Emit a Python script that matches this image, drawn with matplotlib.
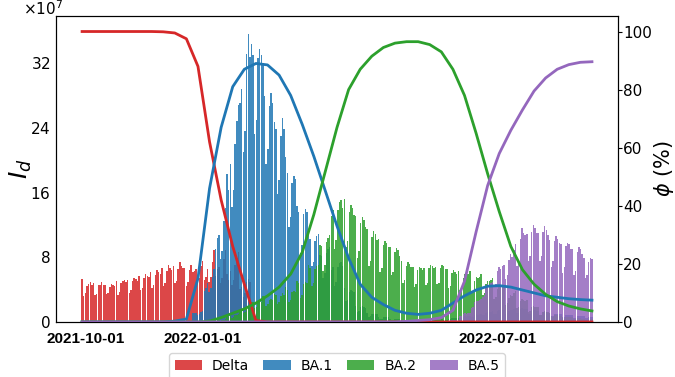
import numpy as np
import matplotlib.pyplot as plt

variants = ['Delta', 'BA.1', 'BA.2', 'BA.5']
colors = ['#d62728', '#1f77b4', '#2ca02c', '#9467bd']

# daily new infections (x1e7), one row per week
daily_cases = [
    5.3, 3.2, 3.6, 4.4, 4.7, 4.9, 4.6,
    4.8, 3.3, 3.5, 4.5, 4.6, 4.9, 4.6,
    4.5, 3.4, 3.6, 4.3, 4.7, 4.6, 4.4,
    5.1, 3.3, 3.7, 4.8, 5.0, 5.2, 4.9,
    5.2, 3.6, 3.9, 5.0, 5.4, 5.3, 5.1,
    5.6, 3.9, 4.2, 5.4, 5.9, 5.7, 5.5,
    6.1, 4.2, 4.5, 5.8, 6.4, 6.2, 5.9,
    6.6, 4.4, 4.8, 6.3, 7.0, 6.7, 6.4,
    6.9, 4.8, 5.1, 6.6, 7.4, 7.1, 6.8,
    6.8, 4.6, 5.0, 6.5, 7.2, 7.0, 7.1,
    7.4, 5.6, 6.2, 7.8, 8.6, 8.3, 9.0,
    10.5, 8.0, 9.0, 12.0, 14.2, 13.5, 15.5,
    16.0, 11.5, 13.0, 18.5, 21.0, 22.5, 20.0,
    24.0, 17.5, 20.0, 27.0, 30.5, 33.0, 31.0,
    33.0, 24.0, 27.0, 38.0, 40.8, 37.5, 38.5,
    37.0, 26.0, 28.0, 36.5, 37.8, 37.0, 36.0,
    31.5, 22.0, 24.0, 30.0, 31.8, 30.5, 29.0,
    28.0, 18.5, 20.5, 27.0, 29.5, 28.0, 26.0,
    23.5, 15.0, 16.5, 22.0, 23.0, 22.5, 21.0,
    20.0, 12.5, 14.0, 19.5, 20.5, 20.0, 19.0,
    18.0, 12.0, 13.0, 17.5, 18.5, 19.0, 18.2,
    18.0, 12.0, 13.5, 19.0, 20.0, 20.5, 19.5,
    20.5, 13.5, 15.0, 20.5, 22.0, 22.5, 21.0,
    19.0, 11.5, 12.5, 17.0, 18.0, 17.5, 16.5,
    15.0, 9.0, 10.0, 14.0, 14.8, 14.5, 13.5,
    12.5, 7.5, 8.2, 11.5, 12.2, 11.8, 11.0,
    10.8, 6.5, 7.0, 10.0, 10.6, 10.3, 9.8,
    9.6, 6.0, 6.4, 9.0, 9.5, 9.2, 8.4,
    7.8, 5.0, 5.3, 7.2, 7.6, 7.4, 7.0,
    7.0, 4.5, 4.8, 6.6, 7.0, 6.9, 6.6,
    7.0, 4.8, 5.0, 6.9, 7.3, 7.2, 6.9,
    7.3, 5.0, 5.2, 7.1, 7.6, 7.4, 7.0,
    7.0, 4.8, 5.1, 6.9, 7.3, 7.1, 6.8,
    7.2, 5.0, 5.3, 7.0, 7.6, 7.4, 7.5,
    8.0, 5.5, 5.9, 7.8, 8.5, 8.3, 8.6,
    9.0, 6.5, 7.0, 9.2, 10.0, 9.8, 10.2,
    10.6, 7.5, 8.0, 10.8, 11.6, 11.3, 11.8,
    12.0, 8.0, 8.8, 11.5, 12.6, 12.2, 13.5,
    14.5, 9.5, 10.5, 14.0, 15.8, 15.0, 14.6,
    14.8, 9.5, 10.2, 14.0, 15.0, 14.5, 13.8,
    13.8, 9.0, 9.6, 13.2, 14.0, 13.5, 12.8,
    12.0, 8.0, 8.6, 11.5, 12.2, 11.8, 11.2,
    11.0, 7.0, 7.6, 10.5, 11.0, 10.8, 10.2,
    10.2, 6.5, 7.0, 9.6, 10.3, 10.0, 9.4,
    8.8, 6.0, 6.4, 8.2, 8.8, 8.6,
]

# weekly variant shares (%)
delta_share = [100, 100, 100, 100, 100, 100, 100, 99.9, 99.5, 97.5, 88, 62, 42, 26, 13, 0.5,
               0, 0, 0, 0, 0, 0, 0, 0, 0, 0, 0, 0, 0, 0, 0, 0, 0, 0, 0, 0, 0, 0, 0, 0, 0, 0, 0, 0, 0]
ba1_share = [0, 0, 0, 0, 0, 0, 0, 0, 0.3, 1, 15, 46, 67, 81, 87, 89, 88.5, 85, 78, 68, 57, 45, 33,
             22, 13, 8.5, 6, 4, 3, 2.6, 3, 4, 6.5, 9, 11, 12.3, 12.5, 12, 11, 10, 9, 8.5, 8, 7.7, 7.5]
ba2_share = [0, 0, 0, 0, 0, 0, 0, 0, 0, 0, 0, 0.3, 1.5, 3, 4.5, 6.5, 9, 12, 16.5, 24, 37, 52, 67,
             80, 87, 91.5, 94.5, 96, 96.5, 96.5, 95.5, 93, 87, 78, 65, 51, 38, 26, 18, 13, 9.5, 7,
             5.5, 4.5, 3.8]
ba5_share = [0, 0, 0, 0, 0, 0, 0, 0, 0, 0, 0, 0, 0, 0, 0, 0, 0, 0, 0, 0, 0, 0, 0, 0, 0, 0, 0, 0,
             0.2, 0.5, 0.8, 1.5, 4, 14, 31, 47, 58, 66, 73, 79.5, 84, 87, 88.6, 89.4, 89.6]
shares = [delta_share, ba1_share, ba2_share, ba5_share]

tick_days = [2, 74, 255]
tick_labels = ['2021-10-01', '2022-01-01', '2022-07-01']

cases = np.array(daily_cases) * 1e7
days = np.arange(len(cases))
share_days = np.linspace(0, days[-1], len(delta_share))
# share of the week each day belongs to
week_of_day = np.rint(days * (len(share_days) - 1) / days[-1]).astype(int)

fig, ax = plt.subplots(figsize=(6.75, 3.77), dpi=100)
fig.subplots_adjust(left=0.083, right=0.9156, bottom=0.146, top=0.958)
ax2 = ax.twinx()

bars = []
for name, share, c in zip(variants, shares, colors):
    share = np.array(share)
    b = ax.bar(days, cases * share[week_of_day] / 100, width=0.9, color=c, alpha=0.85, label=name)
    bars.append(b)
    ax2.plot(share_days, share, color=c, lw=2)

ax.set_xlim(-16, 329)
ax.set_ylim(0, 3.77e8)
ax.set_yticks([0, 8e7, 1.6e8, 2.4e8, 3.2e8])
ax.ticklabel_format(axis='y', style='sci', scilimits=(7, 7), useMathText=True)
ax.yaxis.OFFSETTEXTPAD = 0.5
off = ax.yaxis.get_offset_text()
off.set_fontsize(11)
off.set_ha('right')
off.set_x(0.012)
ax.tick_params(axis='y', labelsize=11, length=0, pad=4)
ax.set_xticks(tick_days, tick_labels)
for t in ax.get_xticklabels():
    t.set_fontfamily('Liberation Sans')
    t.set_fontweight('bold')
    t.set_fontsize(11)
ax.tick_params(axis='x', length=0, pad=7)
ax.set_ylabel('$I_d$', fontsize=18, labelpad=-3)

ax2.set_ylim(0, 105.4)
ax2.set_yticks([0, 20, 40, 60, 80, 100])
ax2.tick_params(axis='y', labelsize=11, length=3, pad=0.5)
ax2.set_ylabel('$\\phi$ (%)', fontsize=15, labelpad=0)

ax.legend(handles=bars, loc='upper center', bbox_to_anchor=(0.5, -0.08), ncol=4,
          fontsize=10, columnspacing=1.0, handletextpad=0.7)

fig.savefig('out.png', dpi=100)
